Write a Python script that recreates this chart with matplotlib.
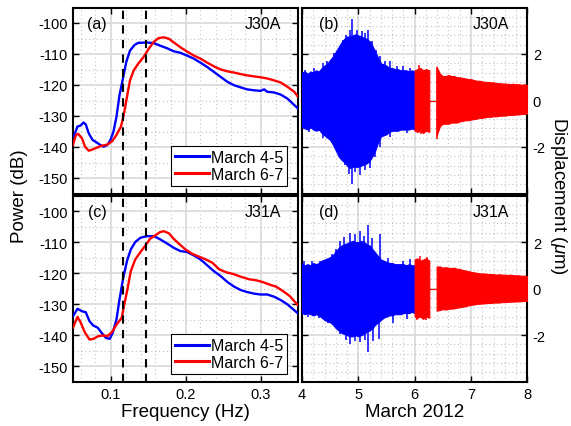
import numpy as np
import matplotlib
matplotlib.use("Agg")
import matplotlib.pyplot as plt
from matplotlib.ticker import MultipleLocator, FixedLocator, NullFormatter

plt.rcParams['font.family'] = ['Liberation Sans', 'DejaVu Sans']
plt.rcParams['axes.unicode_minus'] = False
plt.rcParams['mathtext.fontset'] = 'custom'
plt.rcParams['mathtext.it'] = 'Liberation Sans:italic'
plt.rcParams['mathtext.rm'] = 'Liberation Sans'

# ---------------- spectra (a) J30A ----------------
f_a_blue = [0.051, 0.056, 0.060, 0.064, 0.067, 0.071, 0.076, 0.082, 0.086, 0.091, 0.096, 0.100,
            0.104, 0.108, 0.112, 0.117, 0.121, 0.126, 0.132, 0.137, 0.149, 0.158, 0.166, 0.175,
            0.184, 0.193, 0.202, 0.211, 0.220, 0.229, 0.238, 0.247, 0.256, 0.265, 0.274, 0.282,
            0.291, 0.300, 0.305, 0.309, 0.318, 0.327, 0.336, 0.343, 0.350]
p_a_blue = [-136.6, -133.4, -133.1, -132.1, -132.7, -135.6, -137.7, -138.6, -139.3, -139.9, -139.3, -137.7,
            -135.0, -130.2, -123.3, -117.4, -112.6, -108.9, -107.1, -106.4, -106.3, -106.5, -107.3, -108.1,
            -109.1, -109.6, -110.5, -111.5, -112.8, -114.2, -115.8, -117.4, -119.0, -120.1, -120.8, -121.4,
            -121.7, -121.9, -121.4, -122.2, -122.4, -123.1, -124.4, -126.0, -127.6]
f_a_red = [0.050, 0.054, 0.057, 0.062, 0.066, 0.071, 0.075, 0.082, 0.088, 0.095, 0.102, 0.108,
           0.114, 0.118, 0.122, 0.126, 0.131, 0.137, 0.144, 0.151, 0.158, 0.164, 0.171, 0.178,
           0.184, 0.193, 0.202, 0.211, 0.220, 0.229, 0.238, 0.247, 0.256, 0.265, 0.274, 0.282,
           0.291, 0.300, 0.309, 0.318, 0.327, 0.336, 0.345, 0.350]
p_a_red = [-139.3, -136.1, -135.8, -137.2, -139.9, -141.2, -140.9, -140.2, -139.6, -139.3, -138.2, -136.1,
           -133.4, -129.2, -123.8, -118.5, -115.3, -113.1, -111.0, -108.3, -106.0, -104.9, -104.6, -105.1,
           -106.2, -107.8, -109.2, -110.5, -111.5, -112.8, -114.0, -115.0, -115.6, -116.0, -116.5, -116.9,
           -117.2, -117.5, -117.9, -118.5, -119.2, -120.6, -122.2, -123.8]

# ---------------- spectra (c) J31A ----------------
f_c_blue = [0.050, 0.056, 0.062, 0.067, 0.072, 0.077, 0.083, 0.088, 0.094, 0.099, 0.103, 0.108,
            0.112, 0.117, 0.122, 0.127, 0.133, 0.140, 0.149, 0.158, 0.166, 0.175, 0.184, 0.193,
            0.202, 0.211, 0.220, 0.229, 0.238, 0.247, 0.256, 0.265, 0.274, 0.282, 0.291, 0.300,
            0.309, 0.318, 0.327, 0.336, 0.350]
p_c_blue = [-133.9, -131.5, -132.3, -132.6, -135.5, -136.9, -137.6, -139.2, -140.9, -141.2, -139.2, -134.9,
            -128.5, -121.5, -116.1, -112.4, -110.0, -108.6, -108.1, -108.1, -109.1, -110.4, -111.8, -112.9,
            -113.2, -114.3, -115.6, -117.5, -119.4, -121.0, -122.9, -124.4, -125.5, -126.1, -126.6, -126.9,
            -126.9, -127.6, -128.7, -130.1, -133.0]
f_c_red = [0.050, 0.056, 0.060, 0.066, 0.072, 0.077, 0.084, 0.091, 0.096, 0.102, 0.108, 0.115,
           0.118, 0.123, 0.127, 0.133, 0.140, 0.146, 0.153, 0.160, 0.166, 0.171, 0.178, 0.184,
           0.191, 0.200, 0.209, 0.218, 0.227, 0.236, 0.245, 0.254, 0.265, 0.274, 0.285, 0.294,
           0.303, 0.312, 0.321, 0.330, 0.339, 0.350]
p_c_red = [-137.6, -134.1, -135.8, -139.2, -141.4, -141.2, -140.3, -140.1, -140.3, -139.0, -136.6, -134.4,
           -130.6, -124.7, -119.4, -115.6, -113.2, -111.3, -108.9, -107.8, -106.8, -106.5, -107.2, -108.9,
           -110.5, -112.4, -113.8, -114.7, -115.6, -116.7, -118.8, -119.7, -120.4, -121.2, -122.0, -122.3,
           -122.9, -123.7, -124.4, -125.8, -127.4, -130.4]

band_freqs = [0.117, 0.147]
legend_labels = ['March 4-5', 'March 6-7']
station_names = ['J30A', 'J31A']

# ---------------- displacement envelopes ----------------
t_blue = [4.00, 4.05, 4.10, 4.15, 4.20, 4.25, 4.30, 4.35, 4.40, 4.45, 4.50, 4.55, 4.60, 4.65,
          4.70, 4.75, 4.80, 4.85, 4.90, 4.95, 5.00, 5.05, 5.10, 5.15, 5.20, 5.25, 5.30, 5.35,
          5.40, 5.45, 5.50, 5.55, 5.60, 5.65, 5.70, 5.75, 5.80, 5.85, 5.90, 5.95, 6.00]
t_red1 = [6.00, 6.05, 6.10, 6.15, 6.20, 6.26]
t_gap = [6.26, 6.39]
v_gap = [0.0, 0.0]
t_red2 = [6.39, 6.45, 6.50, 6.55, 6.60, 6.65, 6.70, 6.75, 6.80, 6.85, 6.90, 6.95, 7.00,
          7.05, 7.10, 7.15, 7.20, 7.25, 7.30, 7.35, 7.40, 7.45, 7.50, 7.55, 7.60, 7.65,
          7.70, 7.75, 7.80, 7.85, 7.90, 7.95, 8.00]

# (b) J30A
up_b_blue = [1.20, 1.25, 1.15, 1.25, 1.20, 1.30, 1.25, 1.40, 1.50, 1.60, 1.75, 1.90, 2.10, 2.30,
             2.50, 2.65, 2.75, 2.75, 2.80, 2.85, 2.80, 2.75, 2.70, 2.65, 2.55, 2.35, 2.10, 1.85,
             1.60, 1.55, 1.50, 1.40, 1.40, 1.35, 1.35, 1.30, 1.30, 1.30, 1.25, 1.30, 1.25]
lo_b_blue = [-1.15, -1.20, -1.25, -1.15, -1.25, -1.30, -1.25, -1.40, -1.50, -1.60, -1.70, -1.90, -2.15, -2.40,
             -2.55, -2.65, -2.80, -2.90, -2.85, -2.85, -2.85, -2.80, -2.75, -2.70, -2.60, -2.40, -2.15, -1.80,
             -1.55, -1.50, -1.45, -1.35, -1.30, -1.30, -1.30, -1.25, -1.25, -1.25, -1.25, -1.20, -1.25]
up_b_red1 = [1.30, 1.35, 1.40, 1.30, 1.35, 1.30]
lo_b_red1 = [-1.30, -1.35, -1.30, -1.40, -1.30, -1.35]
up_b_red2 = [1.45, 1.15, 1.05, 1.05, 1.10, 1.05, 1.05, 1.00, 1.00, 0.97, 0.95, 0.92, 0.92,
             0.88, 0.85, 0.85, 0.82, 0.80, 0.80, 0.78, 0.78, 0.75, 0.75, 0.73, 0.73, 0.72,
             0.70, 0.72, 0.70, 0.70, 0.68, 0.70, 0.66]
lo_b_red2 = [-1.50, -1.10, -1.00, -1.00, -1.00, -0.95, -0.95, -0.95, -0.90, -0.88, -0.85, -0.85, -0.82,
             -0.80, -0.78, -0.75, -0.75, -0.72, -0.70, -0.70, -0.68, -0.68, -0.66, -0.65, -0.65, -0.63,
             -0.62, -0.62, -0.60, -0.60, -0.58, -0.58, -0.55]
spk_b_up_t = [4.06, 4.21, 4.38, 4.44, 4.56, 4.66, 4.72, 4.79, 4.85, 4.89, 4.98, 5.06, 5.12, 5.18,
              5.25, 5.31, 5.39, 5.47, 5.56, 5.68, 5.80, 5.92, 6.08, 6.40]
spk_b_up_v = [1.32, 1.40, 1.60, 1.68, 2.04, 2.19, 2.62, 2.83, 3.05, 3.50, 3.02, 2.98, 2.90, 3.05,
              2.55, 2.19, 1.90, 1.68, 1.68, 1.47, 1.47, 1.40, 1.52, 1.45]
spk_b_lo_t = [4.12, 4.38, 4.53, 4.67, 4.76, 4.84, 4.89, 4.94, 5.03, 5.12, 5.21, 5.30, 5.39, 5.56,
              5.86, 6.12, 6.40]
spk_b_lo_v = [-1.35, -1.63, -1.84, -2.42, -2.78, -3.14, -3.57, -3.06, -3.20, -3.00, -2.92, -2.42,
              -1.98, -1.55, -1.41, -1.45, -1.65]

# (d) J31A
up_d_blue = [1.05, 1.00, 1.05, 1.00, 1.10, 1.05, 1.10, 1.20, 1.25, 1.30, 1.35, 1.45, 1.60, 1.75,
             1.85, 1.90, 1.95, 2.00, 2.05, 2.00, 2.00, 2.05, 2.00, 1.90, 1.85, 1.70, 1.55, 1.40,
             1.25, 1.20, 1.15, 1.10, 1.10, 1.05, 1.05, 1.05, 1.05, 1.00, 1.05, 1.00, 1.00]
lo_d_blue = [-1.05, -1.10, -1.05, -1.10, -1.15, -1.10, -1.15, -1.25, -1.35, -1.40, -1.45, -1.55, -1.70, -1.80,
             -1.90, -1.95, -2.00, -2.05, -2.05, -2.00, -2.05, -2.00, -1.95, -1.85, -1.80, -1.70, -1.55, -1.45,
             -1.35, -1.25, -1.20, -1.15, -1.15, -1.10, -1.10, -1.10, -1.05, -1.05, -1.05, -1.00, -1.05]
up_d_red1 = [1.25, 1.30, 1.20, 1.25, 1.30, 1.20]
lo_d_red1 = [-1.20, -1.25, -1.20, -1.30, -1.20, -1.25]
up_d_red2 = [0.95, 0.95, 0.90, 0.92, 0.90, 0.88, 0.90, 0.85, 0.85, 0.80, 0.78, 0.75, 0.72,
             0.70, 0.68, 0.66, 0.65, 0.65, 0.63, 0.63, 0.62, 0.60, 0.62, 0.60, 0.60, 0.58,
             0.60, 0.58, 0.57, 0.57, 0.55, 0.56, 0.54]
lo_d_red2 = [-0.95, -0.92, -0.88, -0.90, -0.87, -0.86, -0.85, -0.82, -0.80, -0.78, -0.76, -0.72, -0.70,
             -0.68, -0.66, -0.65, -0.64, -0.63, -0.62, -0.62, -0.60, -0.60, -0.60, -0.58, -0.58, -0.57,
             -0.56, -0.56, -0.55, -0.55, -0.54, -0.53, -0.52]
spk_d_up_t = [4.04, 4.18, 4.32, 4.53, 4.60, 4.67, 4.75, 4.85, 4.94, 5.03, 5.10, 5.18, 5.24, 5.39,
              5.52, 5.80, 5.92, 6.10, 6.22]
spk_d_up_v = [1.20, 1.18, 1.19, 1.47, 1.69, 2.04, 2.20, 2.40, 2.33, 2.47, 2.25, 2.73, 2.19, 2.33,
              1.33, 1.19, 1.26, 1.40, 1.35]
spk_d_lo_t = [4.10, 4.30, 4.47, 4.67, 4.78, 4.85, 4.94, 5.03, 5.12, 5.18, 5.26, 5.36, 5.62, 5.86,
              6.05, 6.20]
spk_d_lo_v = [-1.22, -1.25, -1.46, -1.96, -2.20, -2.39, -2.24, -2.31, -2.20, -2.74, -2.24, -2.17,
              -1.46, -1.31, -1.33, -1.35]

BLUE = '#0000ff'
RED = '#ff0000'
GRID_MAJOR = '#dcdcdc'
GRID_MINOR = '#c4c4c4'
TICK_FS = 10.5
LABEL_FS = 13.5
TEXT_FS = 11.5

W, H = 571, 427
fig = plt.figure(figsize=(W / 100, H / 100), dpi=100)

def px_axes(x0, x1, y0, y1):
    return fig.add_axes([x0 / W, 1 - y1 / H, (x1 - x0) / W, (y1 - y0) / H])

ax_a = px_axes(73, 298, 8.5, 194.5)
ax_c = px_axes(73, 298, 196.5, 382.7)
ax_b = px_axes(302, 527.3, 8.5, 194.5)
ax_d = px_axes(302, 527.3, 196.5, 382.7)

def style(ax):
    ax.set_axisbelow(True)
    for s in ax.spines.values():
        s.set_linewidth(1.5)
        s.set_color('black')
    ax.grid(True, which='major', color=GRID_MAJOR, linewidth=1.3, linestyle='-')
    ax.grid(True, which='minor', color=GRID_MINOR, linewidth=0.8, linestyle=(0, (1, 2.5)))
    ax.tick_params(which='major', direction='in', length=4, width=1.0,
                   top=True, bottom=True, left=True, right=True, labelsize=TICK_FS, pad=4)
    ax.tick_params(which='minor', length=0)

# ---- spectra ----
for ax, fb, pb, fr, pr, name, lab in [
        (ax_a, f_a_blue, p_a_blue, f_a_red, p_a_red, station_names[0], '(a)'),
        (ax_c, f_c_blue, p_c_blue, f_c_red, p_c_red, station_names[1], '(c)')]:
    style(ax)
    ax.plot(fb, pb, color=BLUE, lw=1.7, label=legend_labels[0], zorder=3)
    ax.plot(fr, pr, color=RED, lw=1.7, label=legend_labels[1], zorder=3)
    for fx in band_freqs:
        ax.axvline(fx, color='black', lw=1.5, linestyle=(0, (4, 3)), zorder=4)
    ax.set_xlim(0.05, 0.35)
    ax.set_ylim(-155, -95)
    ax.xaxis.set_major_locator(FixedLocator([0.1, 0.2, 0.3]))
    ax.xaxis.set_minor_locator(MultipleLocator(0.02))
    ax.yaxis.set_major_locator(FixedLocator([-150, -140, -130, -120, -110, -100]))
    ax.yaxis.set_minor_locator(MultipleLocator(5))
    ax.text(0.107, 0.912, lab, transform=ax.transAxes, ha='center', va='center', fontsize=TEXT_FS)
    ax.text(0.925, 0.912, name, transform=ax.transAxes, ha='right', va='center', fontsize=TEXT_FS)
    leg = ax.legend(loc='lower right', bbox_to_anchor=(0.953, 0.043), borderaxespad=0,
                    fontsize=TEXT_FS, handlelength=2.1, handletextpad=0.15, labelspacing=0.1,
                    borderpad=0.25, fancybox=False, framealpha=1, edgecolor='black')
    leg.get_frame().set_linewidth(0.8)
    for ln in leg.get_lines():
        ln.set_linewidth(2.2)

ax_a.xaxis.set_major_formatter(NullFormatter())
ax_c.set_xlabel('Frequency (Hz)', fontsize=LABEL_FS, labelpad=1)

# ---- displacement ----
def draw_trace(ax, t, up, lo, color):
    ax.fill_between(t, lo, up, color=color, linewidth=0.8, edgecolor=color, zorder=3)

for ax, ub, lb, ur1, lr1, ur2, lr2, sut, suv, slt, slv, name, lab in [
        (ax_b, up_b_blue, lo_b_blue, up_b_red1, lo_b_red1, up_b_red2, lo_b_red2,
         spk_b_up_t, spk_b_up_v, spk_b_lo_t, spk_b_lo_v, station_names[0], '(b)'),
        (ax_d, up_d_blue, lo_d_blue, up_d_red1, lo_d_red1, up_d_red2, lo_d_red2,
         spk_d_up_t, spk_d_up_v, spk_d_lo_t, spk_d_lo_v, station_names[1], '(d)')]:
    style(ax)
    draw_trace(ax, t_blue, ub, lb, BLUE)
    draw_trace(ax, t_red1, ur1, lr1, RED)
    draw_trace(ax, t_red2, ur2, lr2, RED)
    ax.plot(t_gap, v_gap, color=RED, lw=0.9, zorder=3)
    for ts, vs in [(sut, suv), (slt, slv)]:
        cols = [BLUE if tt < 6.0 else RED for tt in ts]
        ax.vlines(ts, 0, vs, colors=cols, lw=1.1, zorder=3)
    ax.set_xlim(4, 8)
    ax.set_ylim(-4, 4)
    ax.xaxis.set_major_locator(FixedLocator([4, 5, 6, 7, 8]))
    ax.xaxis.set_minor_locator(MultipleLocator(0.2))
    ax.yaxis.set_major_locator(FixedLocator([-2, 0, 2]))
    ax.yaxis.set_minor_locator(MultipleLocator(0.4))
    ax.yaxis.tick_right()
    ax.tick_params(which='major', left=True, right=True, labelleft=False, labelright=True)
    ax.text(0.12, 0.912, lab, transform=ax.transAxes, ha='center', va='center', fontsize=TEXT_FS)
    ax.text(0.92, 0.912, name, transform=ax.transAxes, ha='right', va='center', fontsize=TEXT_FS)

ax_b.xaxis.set_major_formatter(NullFormatter())
ax_d.set_xlabel('March 2012', fontsize=LABEL_FS, labelpad=1)

fig.text(20 / W, 1 - 196 / H, 'Power (dB)', rotation=90, ha='center', va='center', fontsize=LABEL_FS)
fig.text(559 / W, 1 - 196 / H, r'Displacement ($\mu$m)', rotation=270, ha='center', va='center',
         fontsize=LABEL_FS)

fig.savefig('out.png', dpi=100)
